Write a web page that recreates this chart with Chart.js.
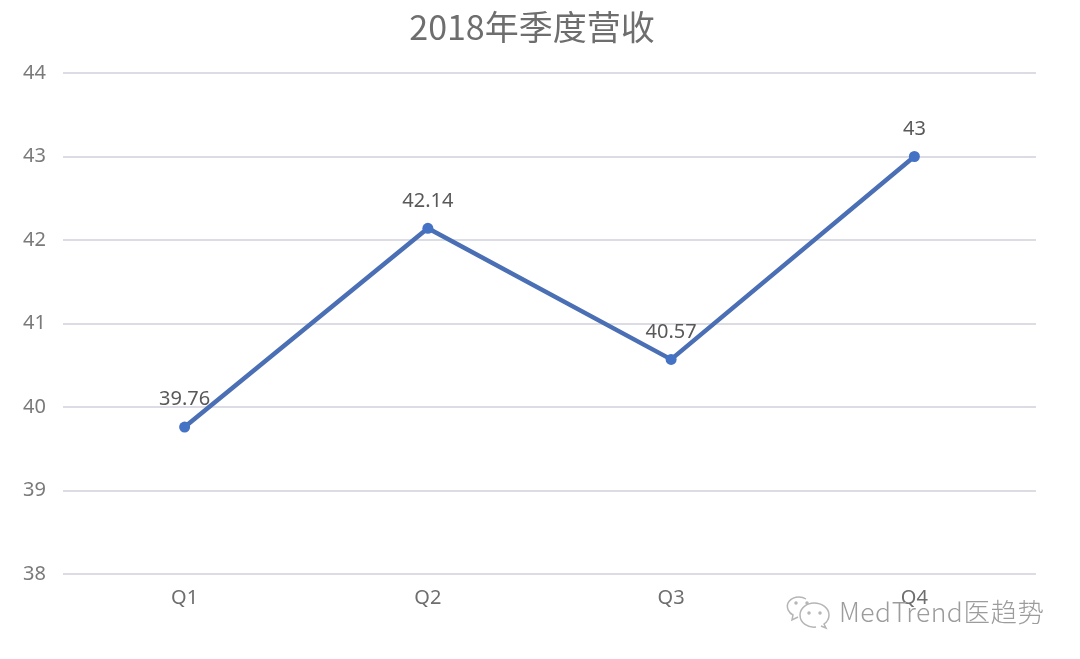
<!DOCTYPE html>
<html>
<head>
<meta charset="utf-8">
<style>
  html, body { margin: 0; padding: 0; background: #fff; }
  #wrap { position: relative; width: 1080px; height: 659px; overflow: hidden; }
  #chart { display: block; }
  #mark { position: absolute; left: 839px; top: 592px; font: 26.5px/38px "Noto Sans CJK SC", "Noto Sans", sans-serif; font-weight: 300; color: #9c9c9c; letter-spacing: 0.5px; white-space: nowrap; }
  #icon { position: absolute; left: 786px; top: 594px; }
</style>
</head>
<body>
<div id="wrap">
  <canvas id="chart" width="1080" height="659"></canvas>
  <svg id="icon" width="46" height="36" viewBox="0 0 46 36" fill="none" stroke="#b5b5b5" stroke-width="1.5">
    <path d="M20 5 C14 1 5 3 2 9 C0 14 3 19 7 21 L6 26 L12 23"/>
    <path d="M30 33 C22 34 14 29 14 21 C14 14 21 9 28 9 C36 9 43 14 43 21 C43 25 41 28 38 30 L40 34 L35 32"/>
    <circle cx="10" cy="9" r="1"/><circle cx="21" cy="9" r="1"/>
    <circle cx="23" cy="19" r="1"/><circle cx="34" cy="19" r="1"/>
  </svg>
  <div id="mark">MedTrend医趋势</div>
</div>
<script src="https://cdn.jsdelivr.net/npm/chart.js@4/dist/chart.umd.min.js"></script>
<script>
const categories = ['Q1', 'Q2', 'Q3', 'Q4'];
const revenue = [39.76, 42.14, 40.57, 43];
const revenueLabels = ['39.76', '42.14', '40.57', '43'];
const yTicks = [38, 39, 40, 41, 42, 43, 44];
const chartTitle = '2018年季度营收';

// title sits a bit off the canvas centre, and the number goes above each point
const chartText = {
  id: 'chartText',
  afterDatasetsDraw(chart) {
    const ctx = chart.ctx;
    const points = chart.getDatasetMeta(0).data;
    ctx.save();
    ctx.textAlign = 'center';
    ctx.textBaseline = 'middle';
    ctx.font = '34px "Noto Sans CJK SC", "Noto Sans", sans-serif';
    ctx.fillStyle = '#6e6e6e';
    ctx.fillText(chartTitle, 532, 27);
    ctx.font = '20px "Noto Sans", sans-serif';
    ctx.fillStyle = '#595959';
    points.forEach((p, i) => ctx.fillText(revenueLabels[i], p.x, p.y - 27.5));
    ctx.restore();
  }
};

new Chart(document.getElementById('chart'), {
  type: 'line',
  data: {
    labels: categories,
    datasets: [{
      data: revenue,
      borderColor: '#4a6fb5',
      backgroundColor: '#4472c4',
      borderWidth: 4.5,
      pointRadius: 5.5,
      pointBorderWidth: 0,
      pointHoverRadius: 5.5,
      tension: 0
    }]
  },
  options: {
    responsive: false,
    animation: false,
    layout: { padding: { left: 0, right: 44, top: 73, bottom: 0 } },
    plugins: {
      legend: { display: false },
      tooltip: { enabled: false }
    },
    scales: {
      x: {
        offset: true,
        afterFit(axis) { axis.height = 85; },
        grid: { display: false },
        border: { display: false },
        ticks: { color: '#6e6e6e', font: { size: 20, family: '"Noto Sans", sans-serif' }, padding: 4 }
      },
      y: {
        min: 38,
        max: 44,
        afterFit(axis) { axis.width = 63; },
        afterBuildTicks(axis) { axis.ticks = yTicks.map(v => ({ value: v })); },
        grid: { color: '#dcdce4', lineWidth: 2, drawTicks: false },
        border: { display: false },
        ticks: { color: '#7a7a7a', font: { size: 20, family: '"Noto Sans", sans-serif' }, padding: 17 }
      }
    }
  },
  plugins: [chartText]
});
</script>
</body>
</html>
